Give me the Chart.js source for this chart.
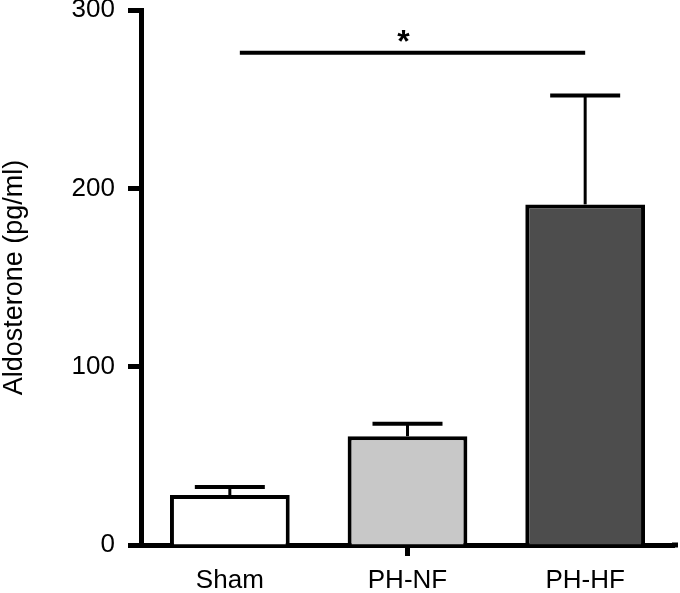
<!DOCTYPE html>
<html>
<head>
<meta charset="utf-8">
<script src="https://cdn.jsdelivr.net/npm/chart.js@4/dist/chart.umd.min.js"></script>
<style>
  html, body { margin: 0; padding: 0; background: #fff; }
  #wrap { width: 680px; height: 593px; }
</style>
</head>
<body>
<div id="wrap"><canvas id="chart"></canvas></div>
<script>
const groups = ["Sham", "PH-NF", "PH-HF"];
const means = [28, 61, 191];
const errors = [4.5, 7, 61];
const fills = ["#ffffff", "#c8c8c8", "#4d4d4d"];
const yTicks = [0, 100, 200, 300];
const sigPair = [0, 2];
const sigLevel = 276;
const sigMark = "*";

const FONT = "'Liberation Sans', Arial, sans-serif";

// error bars + significance bracket
const extras = {
    id: "extras",
    afterDatasetsDraw(chart) {
        const ctx = chart.ctx;
        const x = chart.scales.x, y = chart.scales.y;
        ctx.save();
        ctx.strokeStyle = "#000";
        ctx.lineCap = "butt";
        means.forEach((m, i) => {
            const cx = x.getPixelForValue(i);
            const top = y.getPixelForValue(m + errors[i]);
            const base = y.getPixelForValue(m);
            ctx.lineWidth = 3;
            ctx.beginPath();
            ctx.moveTo(cx, base);
            ctx.lineTo(cx, top);
            ctx.stroke();
            ctx.lineWidth = 4;
            ctx.beginPath();
            ctx.moveTo(cx - 35, top);
            ctx.lineTo(cx + 35, top);
            ctx.stroke();
        });
        const sy = y.getPixelForValue(sigLevel);
        const x1 = x.getPixelForValue(sigPair[0]) + 10;
        const x2 = x.getPixelForValue(sigPair[1]);
        ctx.lineWidth = 4;
        ctx.beginPath();
        ctx.moveTo(x1, sy);
        ctx.lineTo(x2, sy);
        ctx.stroke();
        ctx.fillStyle = "#000";
        ctx.font = "bold 32px " + FONT;
        ctx.textAlign = "center";
        ctx.textBaseline = "alphabetic";
        ctx.fillText(sigMark, (x1 + x2) / 2 - 9, sy - 1);
        // x axis runs a little past the last bar
        ctx.lineWidth = 5;
        ctx.beginPath();
        ctx.moveTo(chart.chartArea.right - 2, chart.chartArea.bottom);
        ctx.lineTo(chart.chartArea.right + 4, chart.chartArea.bottom);
        ctx.stroke();
        ctx.restore();
    }
};

new Chart(document.getElementById("chart"), {
    type: "bar",
    data: {
        labels: groups,
        datasets: [{
            data: means,
            backgroundColor: fills,
            borderColor: "#000",
            borderWidth: 4,
            borderSkipped: "bottom",
            barPercentage: 0.674,
            categoryPercentage: 1
        }]
    },
    options: {
        responsive: true,
        maintainAspectRatio: false,
        animation: false,
        layout: { padding: { top: 10, right: 6, left: 0, bottom: 0 } },
        plugins: {
            legend: { display: false },
            tooltip: { enabled: false }
        },
        scales: {
            x: {
                afterFit: s => { s.height = 48; s.paddingLeft = 0; s.paddingRight = 0; },
                grid: {
                    offset: false,
                    drawOnChartArea: false,
                    tickLength: 11,
                    tickWidth: 5,
                    tickColor: c => c.index === 1 ? "#000" : "rgba(0,0,0,0)"
                },
                border: { display: true, width: 5, color: "#000" },
                ticks: {
                    color: "#000",
                    padding: 9,
                    font: { family: FONT, size: 26 }
                }
            },
            y: {
                min: 0,
                max: 300,
                afterFit: s => { s.width = 141; s.paddingTop = 0; s.paddingBottom = 0; },
                afterBuildTicks: s => { s.ticks = yTicks.map(v => ({ value: v })); },
                grid: {
                    drawOnChartArea: false,
                    tickLength: 13,
                    tickWidth: 5,
                    tickColor: "#000"
                },
                border: { display: true, width: 5, color: "#000" },
                ticks: {
                    color: "#000",
                    padding: 13,
                    font: { family: FONT, size: 26 }
                },
                title: {
                    display: true,
                    text: "Aldosterone (pg/ml)",
                    color: "#000",
                    padding: { top: 1, bottom: 0 },
                    font: { family: FONT, size: 27, lineHeight: 1 }
                }
            }
        }
    },
    plugins: [extras]
});
</script>
</body>
</html>
